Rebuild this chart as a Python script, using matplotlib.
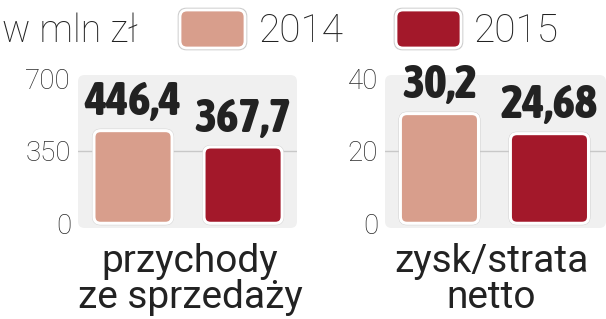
import matplotlib
matplotlib.use('Agg')
import matplotlib.pyplot as plt
from matplotlib.patches import FancyBboxPatch

# data
years = ['2014', '2015']
colors = ['#D89E8C', '#A3182A']
panels = ['przychody\nze sprzedaży', 'zysk/strata\nnetto']
values_rev = [446.4, 367.7]
values_net = [30.2, 24.68]
labels_rev = ['446,4', '367,7']
labels_net = ['30,2', '24,68']
ticks_rev = [0, 350, 700]
ticks_net = [0, 20, 40]

W, H = 606, 319
LIGHT = ['Roboto', 'DejaVu Sans']
BOLD = ['Asap Condensed', 'DejaVu Sans']

fig = plt.figure(figsize=(W / 100, H / 100), dpi=100)

def px(x, y):
    return x / W, 1 - y / H

# overlay for legend, in pixel units
ov = fig.add_axes([0, 0, 1, 1], zorder=0)
ov.set_xlim(0, W)
ov.set_ylim(H, 0)
ov.axis('off')

fig.text(*px(2, 42), 'w mln zł', fontsize=27, family=LIGHT, weight='light',
         color='#222222', va='baseline')
for x0, tx, yr, c in zip([180, 396], [259, 474], years, colors):
    ov.add_patch(FancyBboxPatch((x0 - 1.5, 8.5), 68, 41, boxstyle='round,pad=0,rounding_size=8',
                                facecolor='none', edgecolor='#cccccc', lw=1.2))
    ov.add_patch(FancyBboxPatch((x0, 10), 65, 38, boxstyle='round,pad=0,rounding_size=7',
                                facecolor=c, edgecolor='white', lw=2))
    fig.text(*px(tx, 42), yr, fontsize=28, family=LIGHT, weight='light',
             color='#222222', va='baseline')

specs = [
    (values_rev, labels_rev, ticks_rev, panels[0], (78, 297), (-0.5, 1.49), (-22.7, 714.5), 190),
    (values_net, labels_net, ticks_net, panels[1], (385, 606), (-0.495, 1.514), (-1.3, 40.83), 491),
]

for vals, labs, ticks, name, (xa, xb), xl, yl, cx in specs:
    ya, yb = 75, 228
    ax = fig.add_axes([xa / W, 1 - yb / H, (xb - xa) / W, (yb - ya) / H], zorder=1)
    ax.set_xlim(*xl)
    ax.set_ylim(*yl)
    ax.set_facecolor('none')
    for s in ax.spines.values():
        s.set_visible(False)
    # panel background
    asp_ax = (yb - ya) / (xb - xa)
    ax.add_patch(FancyBboxPatch((0, 0), 1, 1, transform=ax.transAxes,
                                boxstyle='round,pad=0,rounding_size=0.03',
                                mutation_aspect=1 / asp_ax,
                                facecolor='#F0F0F0', edgecolor='none', zorder=0, clip_on=False))
    ax.axhline(ticks[1], color='#C8C8C8', lw=1, zorder=1)

    ppx_x = (xb - xa) / (xl[1] - xl[0])
    ppx_y = (yb - ya) / (yl[1] - yl[0])
    aspect = ppx_x / ppx_y
    bars = ax.bar(range(len(vals)), vals, width=0.71, color=colors)
    for b, c in zip(bars, colors):
        x0, w, h = b.get_x(), b.get_width(), b.get_height()
        b.remove()
        ax.add_patch(FancyBboxPatch((x0 - 2 / ppx_x, -2 / ppx_y), w + 4 / ppx_x, h + 4 / ppx_y,
                                    boxstyle='round,pad=0,rounding_size=0.08',
                                    mutation_aspect=aspect, facecolor='#bbbbbb',
                                    edgecolor='none', zorder=2, alpha=0.6))
        ax.add_patch(FancyBboxPatch((x0, 0), w, h, boxstyle='round,pad=0,rounding_size=0.06',
                                    mutation_aspect=aspect, facecolor=c,
                                    edgecolor='white', lw=2.2, zorder=3))
    for i, (v, t) in enumerate(zip(vals, labs)):
        ax.annotate(t, (i, v), xytext=(0, 11), textcoords='offset points',
                    ha='center', va='baseline', fontsize=34, family=BOLD,
                    weight='heavy', color='#222222', zorder=4)

    ax.set_xticks([])
    ax.set_yticks(ticks)
    ax.set_yticklabels([str(t) for t in ticks])
    ax.tick_params(axis='y', length=0, pad=5, labelsize=20, labelcolor='#2a2a2a')
    for lab in ax.get_yticklabels():
        lab.set_family(LIGHT)
        lab.set_weight('light')

    # category label below panel
    for j, line in enumerate(name.split('\n')):
        fig.text(*px(cx, 272 + 36 * j), line, ha='center', va='baseline',
                 fontsize=28, family=LIGHT, color='#222222')

fig.savefig('out.png', dpi=100)
